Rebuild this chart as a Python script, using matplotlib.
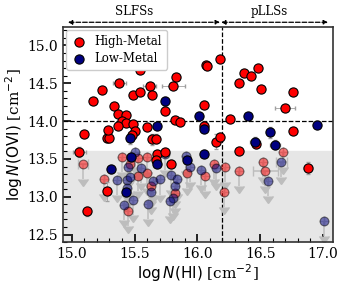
import numpy as np
import matplotlib
matplotlib.use("Agg")
import matplotlib.pyplot as plt
from matplotlib.ticker import MultipleLocator
import matplotlib.transforms as mtransforms

plt.rcParams['font.family'] = 'DejaVu Serif'
plt.rcParams['mathtext.fontset'] = 'dejavusans'

# High-Metal detections
hm_x = [15.54, 15.38, 15.24, 15.17, 15.49, 15.54, 15.62, 15.64, 15.83, 15.81,
        15.74, 15.34, 15.37, 15.43, 15.40, 15.43, 15.37, 15.49, 15.60, 15.82,
        15.86, 15.50, 15.48, 15.10, 15.28, 15.30, 15.29, 15.64, 15.67, 16.05,
        16.05, 16.15, 16.18, 16.07, 16.08, 16.18, 16.37, 16.43, 16.48, 16.33,
        16.51, 16.76, 16.70, 16.26, 16.76, 16.47, 16.33, 15.06, 15.68, 15.74,
        15.79, 15.28, 15.12, 16.88, 15.67]
hm_y = [14.68, 14.51, 14.41, 14.27, 14.35, 14.38, 14.47, 14.34, 14.59, 14.47,
        14.14, 14.20, 14.09, 14.08, 14.00, 13.98, 13.93, 13.96, 13.92, 14.01,
        13.99, 13.87, 13.82, 13.83, 13.78, 13.78, 13.88, 13.76, 13.77, 14.22,
        13.94, 13.73, 13.79, 14.74, 14.735, 14.82, 14.63, 14.60, 14.70, 14.50,
        14.43, 14.39, 14.18, 14.03, 13.87, 13.70, 13.61, 13.59, 13.56, 13.59,
        13.44, 13.07, 12.81, 13.38, 13.48]
hm_xerr = [0.02, 0.05, 0.02, 0.02, 0.02, 0.02, 0.05, 0.02, 0.02, 0.09,
           0.02, 0.02, 0.02, 0.02, 0.02, 0.02, 0.02, 0.02, 0.02, 0.02,
           0.02, 0.02, 0.02, 0.02, 0.02, 0.02, 0.02, 0.02, 0.02, 0.02,
           0.02, 0.02, 0.02, 0.02, 0.02, 0.02, 0.02, 0.02, 0.02, 0.02,
           0.02, 0.02, 0.08, 0.02, 0.02, 0.02, 0.02, 0.05, 0.02, 0.02,
           0.02, 0.02, 0.02, 0.03, 0.02]
hm_yerr = [0.03, 0.03, 0.03, 0.03, 0.03, 0.03, 0.04, 0.03, 0.03, 0.04,
           0.06, 0.03, 0.04, 0.04, 0.05, 0.04, 0.04, 0.05, 0.04, 0.03,
           0.03, 0.04, 0.05, 0.04, 0.06, 0.05, 0.04, 0.07, 0.06, 0.04,
           0.05, 0.10, 0.05, 0.03, 0.03, 0.03, 0.03, 0.03, 0.03, 0.03,
           0.03, 0.03, 0.04, 0.04, 0.04, 0.05, 0.04, 0.07, 0.05, 0.04,
           0.05, 0.12, 0.06, 0.08, 0.05]

# Low-Metal detections
lm_x = [15.74, 15.68, 15.46, 16.01, 16.05, 16.05, 16.40, 16.955, 16.58, 16.46,
        16.62, 15.475, 15.31, 15.43, 15.92, 15.675]
lm_y = [14.27, 13.94, 13.78, 14.07, 13.90, 13.57, 14.07, 13.955, 13.85, 13.73,
        13.69, 13.53, 13.37, 13.06, 13.48, 13.44]
lm_xerr = [0.02, 0.02, 0.02, 0.02, 0.02, 0.02, 0.02, 0.02, 0.02, 0.04,
           0.04, 0.02, 0.02, 0.02, 0.02, 0.02]
lm_yerr = [0.05, 0.04, 0.08, 0.05, 0.05, 0.05, 0.03, 0.03, 0.07, 0.06,
           0.06, 0.05, 0.05, 0.06, 0.05, 0.05]

# High-Metal upper limits
hm_ul_x = [15.09, 15.26, 15.40, 15.46, 15.53, 15.53, 15.60, 15.60, 15.63, 15.45,
           15.82, 15.92, 16.06, 16.13, 16.22, 16.21, 16.33, 16.52, 16.54, 16.68]
hm_ul_y = [13.43, 13.24, 13.53, 13.44, 13.51, 13.27, 13.53, 13.32, 13.14, 12.81,
           13.05, 13.32, 13.28, 13.43, 13.39, 13.06, 13.34, 13.46, 13.34, 13.59]
hm_ul_xerr = [0.04, 0.0, 0.0, 0.0, 0.0, 0.0, 0.0, 0.0, 0.0, 0.0,
              0.0, 0.0, 0.0, 0.0, 0.0, 0.0, 0.0, 0.0, 0.10, 0.0]

# Low-Metal upper limits
lm_ul_x = [15.36, 15.50, 15.45, 15.44, 15.46, 15.49, 15.42, 15.55, 15.61, 15.63,
           15.65, 15.70, 15.74, 15.79, 15.82, 15.84, 15.81, 15.78, 15.91, 15.94,
           16.03, 16.15, 16.56, 16.67, 17.01, 15.44]
lm_ul_y = [13.22, 13.59, 13.40, 13.22, 13.26, 12.96, 12.89, 13.38, 12.90, 13.06,
           13.21, 13.23, 13.56, 13.29, 13.14, 13.24, 12.98, 12.94, 13.54, 13.40,
           13.36, 13.38, 13.21, 13.46, 12.68, 13.12]
lm_ul_xerr = [0.0, 0.0, 0.0, 0.0, 0.0, 0.0, 0.0, 0.0, 0.0, 0.0,
              0.0, 0.0, 0.0, 0.0, 0.0, 0.0, 0.0, 0.0, 0.0, 0.0,
              0.0, 0.0, 0.0, 0.04, 0.0, 0.0]

arrow_len = 0.2
ul_thresh = 13.6
hi_split = 16.2

fig = plt.figure(figsize=(3.44, 2.89), dpi=100)
ax = fig.add_axes([0.183, 0.162, 0.785, 0.746])

ax.axhspan(12.0, ul_thresh, color='#e6e6e6', zorder=0)
ax.axhline(14.0, color='k', ls='--', lw=0.9, zorder=1)
ax.axvline(hi_split, color='k', ls='--', lw=0.9, zorder=1)

# upper limits: grey arrows + faded markers
for xs, ys, xe, col in [(hm_ul_x, hm_ul_y, hm_ul_xerr, 'red'),
                        (lm_ul_x, lm_ul_y, lm_ul_xerr, 'navy')]:
    eb = ax.errorbar(xs, ys, xerr=xe, yerr=[[arrow_len] * len(ys), [0] * len(ys)],
                     uplims=True, fmt='none', ecolor='#bdbdbd', elinewidth=1.1,
                     capsize=3.5, zorder=2)
    for cl in eb[1]:
        cl.set_color('#bdbdbd')
        cl.set_markerfacecolor('#bdbdbd')
        cl.set_markeredgecolor('#bdbdbd')
    ax.scatter(xs, ys, s=40, c=col, edgecolors='k', linewidths=0.8,
               alpha=0.5, zorder=3)

# detections
ax.errorbar(hm_x, hm_y, xerr=hm_xerr, yerr=hm_yerr, fmt='none', ecolor='#a0a0a0',
            elinewidth=0.6, capsize=1.5, zorder=4)
ax.errorbar(lm_x, lm_y, xerr=lm_xerr, yerr=lm_yerr, fmt='none', ecolor='#a0a0a0',
            elinewidth=0.6, capsize=1.5, zorder=4)
ax.scatter(hm_x, hm_y, s=44, c='red', edgecolors='k', linewidths=0.8,
           zorder=5, label='High-Metal')
ax.scatter(lm_x, lm_y, s=44, c='navy', edgecolors='k', linewidths=0.8,
           zorder=6, label='Low-Metal')

ax.set_xlim(14.93, 17.08)
ax.set_ylim(12.4, 15.25)
ax.xaxis.set_major_locator(MultipleLocator(0.5))
ax.xaxis.set_minor_locator(MultipleLocator(0.1))
ax.yaxis.set_major_locator(MultipleLocator(0.5))
ax.yaxis.set_minor_locator(MultipleLocator(0.1))
ax.tick_params(which='both', direction='in', labelsize=10)
ax.tick_params(which='major', length=6, width=1.2)
ax.tick_params(which='minor', length=3, width=0.8)
for sp in ax.spines.values():
    sp.set_linewidth(1.2)
    sp.set_color('#333333')

ax.set_xlabel(r'$\log N{\rm (HI)}$ [cm$^{-2}$]', fontsize=11, labelpad=1)
ax.set_ylabel(r'$\log N{\rm (OVI)}$ [cm$^{-2}$]', fontsize=11, labelpad=2)

ax.legend(loc='upper left', fontsize=8.5, handletextpad=0.6,
          borderpad=0.4, labelspacing=0.35, handlelength=1.4,
          framealpha=1.0, edgecolor='#cccccc', borderaxespad=0.3)

# regime arrows above the axes
trans = mtransforms.blended_transform_factory(ax.transData, ax.transAxes)
for x0, x1, lab, xl in [(14.97, 16.18, 'SLFSs', 15.5), (16.19, 17.04, 'pLLSs', 16.57)]:
    ax.annotate('', xy=(x1, 1.02), xytext=(x0, 1.02), xycoords=trans,
                textcoords=trans, annotation_clip=False,
                arrowprops=dict(arrowstyle='<|-|>', ls='--', lw=0.9, color='k',
                                mutation_scale=6, shrinkA=0, shrinkB=0))
    ax.text(xl, 1.04, lab, transform=trans, ha='center', va='bottom',
            fontsize=8.5)

fig.savefig('out.png', dpi=100)
